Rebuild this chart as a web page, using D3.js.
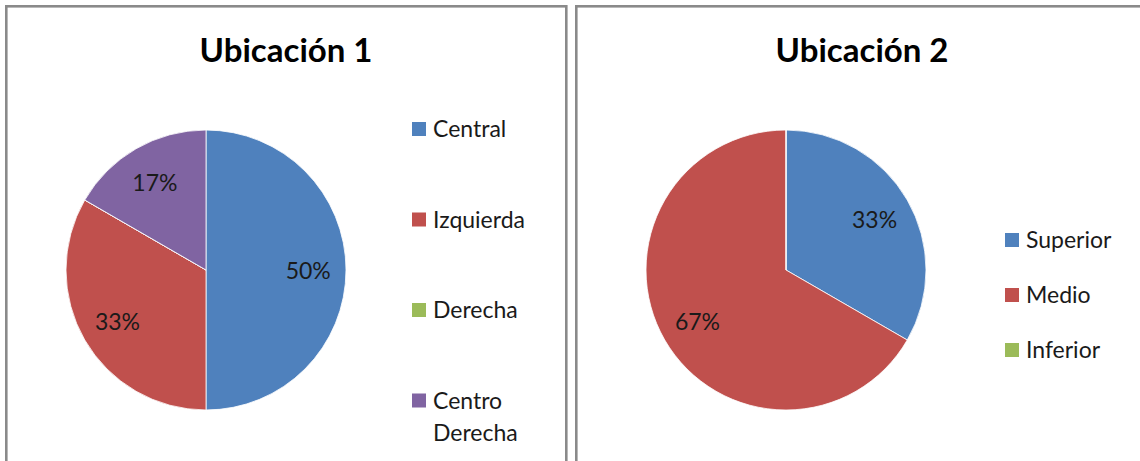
<!DOCTYPE html>
<html><head><meta charset="utf-8">
<script src="https://cdn.jsdelivr.net/npm/d3@7"></script>
<style>body{margin:0;background:#fff}svg{display:block}</style>
</head><body>
<svg id="c" width="1140" height="461"></svg>
<script>
const title1 = "Ubicación 1";
const categories1 = ["Central", "Izquierda", "Derecha", "Centro Derecha"];
const values1 = [3, 2, 0, 1];
const title2 = "Ubicación 2";
const categories2 = ["Superior", "Medio", "Inferior"];
const values2 = [1, 2, 0];
const colors = ["#4F81BD", "#C0504D", "#9BBB59", "#8064A2"];

const svg = d3.select("#c");
const font = "Lato, 'Open Sans', sans-serif";

function panel(x0, x1, titleX, title, cats, vals, cx, legX, legY, legStep) {
  const g = svg.append("g");
  g.append("rect").attr("x", x0).attr("y", 6.3).attr("width", x1 - x0).attr("height", 600)
    .attr("fill", "#fff").attr("stroke", "#8a8a8a").attr("stroke-width", 2.6);
  g.append("text").attr("x", titleX).attr("y", 62)
    .attr("text-anchor", "middle").attr("font-family", font).attr("font-weight", "bold")
    .attr("font-size", 33).attr("fill", "#000").text(title);
  const total = d3.sum(vals);
  const pie = d3.pie().sort(null).value(d => d)(vals);
  const r = 140;
  const arc = d3.arc().innerRadius(0).outerRadius(r);
  const lab = d3.arc().innerRadius(r * 0.73).outerRadius(r * 0.73);
  const pg = g.append("g").attr("transform", `translate(${cx},270)`);
  pg.selectAll("path").data(pie).join("path").attr("d", arc)
    .attr("fill", (d, i) => colors[i]).attr("stroke", "#fff").attr("stroke-width", 0.8);
  pg.selectAll("text").data(pie.filter(d => d.data > 0)).join("text")
    .attr("transform", d => `translate(${lab.centroid(d)})`)
    .attr("text-anchor", "middle").attr("dy", "0.4em")
    .attr("font-family", font).attr("font-size", 23).attr("fill", "#1a1a1a")
    .text(d => Math.round(d.data / total * 100) + "%");
  const lg = g.append("g");
  cats.forEach((c, i) => {
    const y = legY + i * legStep;
    lg.append("rect").attr("x", legX).attr("y", y - 7).attr("width", 14).attr("height", 14)
      .attr("fill", colors[i]);
    const words = c.split(" ");
    const t = lg.append("text").attr("x", legX + 21).attr("y", y)
      .attr("font-family", font).attr("font-size", 23).attr("fill", "#1a1a1a");
    words.forEach((w, j) => {
      t.append("tspan").attr("x", legX + 21).attr("dy", j === 0 ? "0.36em" : "1.4em").text(w);
    });
  });
}
panel(6.3, 566.3, 286, title1, categories1, values1, 206, 412, 129, 90.5);
panel(576.3, 1160, 862, title2, categories2, values2, 786, 1005, 240, 55);
</script>
</body></html>
